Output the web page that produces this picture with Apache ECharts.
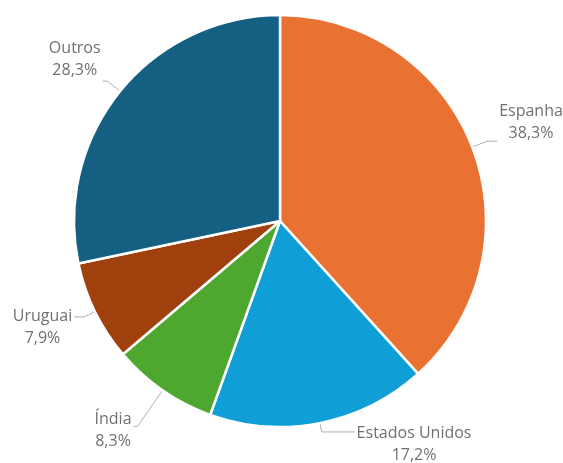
<!DOCTYPE html>
<html>
<head>
<meta charset="utf-8">
<script src="https://cdn.jsdelivr.net/npm/echarts@6/dist/echarts.min.js"></script>
<style>
  html, body { margin: 0; padding: 0; background: #fff; }
  #main { width: 563px; height: 463px; }
</style>
</head>
<body>
<div id="main"></div>
<script>
// dados do gráfico
var paises = ['Espanha', 'Estados Unidos', 'Índia', 'Uruguai', 'Outros'];
var percentuais = [38.3, 17.2, 8.3, 7.9, 28.3];
var cores = ['#E97132', '#0F9ED5', '#4EA72E', '#A0410D', '#156082'];

// ajustes dos rótulos (linha guia e deslocamento do texto)
var linhaL1 = [16, 9, 44, 12, 16];
var linhaL2 = [10, 33, 4, 10, 5];
var margens = [[0, 0, 37, 0], [26, 0, 0, 0], [9, 0, 0, 0], [22, 0, 0, 0], [0, 0, 43, 0]];

var chart = echarts.init(document.getElementById('main'));

var dados = paises.map(function (nome, i) {
  return {
    name: nome,
    value: percentuais[i],
    itemStyle: { color: cores[i] },
    label: { padding: margens[i] },
    labelLine: { length: linhaL1[i], length2: linhaL2[i] }
  };
});

var fonte = { fontFamily: 'Open Sans', fontSize: 16, color: '#707070', lineHeight: 22, align: 'center' };

chart.setOption({
  animation: false,
  series: [{
    type: 'pie',
    center: [280, 221],
    radius: [0, 206],
    startAngle: 90,
    clockwise: true,
    avoidLabelOverlap: false,
    itemStyle: { borderColor: '#fff', borderWidth: 2.5 },
    label: {
      show: true,
      color: '#707070',
      fontFamily: 'Open Sans',
      fontSize: 16,
      lineHeight: 22,
      distanceToLabelLine: 2,
      formatter: function (p) {
        return '{c|' + p.name + '}\n{c|' + p.value.toFixed(1).replace('.', ',') + '%}';
      },
      rich: { c: fonte }
    },
    labelLine: {
      show: true,
      lineStyle: { color: '#b0b0b0', width: 1 }
    },
    data: dados
  }]
});
</script>
</body>
</html>
